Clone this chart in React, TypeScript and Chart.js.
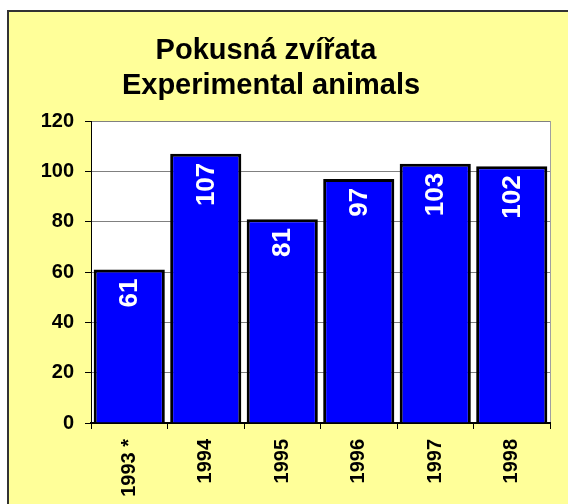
import React, { useEffect, useRef } from "react";
import { Chart, registerables } from "chart.js";

Chart.register(...registerables);

const titleLines = ["Pokusná zvířata", "Experimental animals"];
const categories = ["1993 *", "1994", "1995", "1996", "1997", "1998"];
const values = [61, 107, 81, 97, 103, 102];
const yMin = 0;
const yMax = 120;
const yStep = 20;

const FONT = "'Liberation Sans', Arial, sans-serif";

const framePlugin = {
  id: "frame",
  beforeDraw(chart: any) {
    const { ctx, width, height, chartArea } = chart;
    ctx.save();
    ctx.fillStyle = "#ffffff";
    ctx.fillRect(0, 0, width, height);
    ctx.fillStyle = "#FFFF99";
    ctx.fillRect(8, 11, width, height);
    ctx.strokeStyle = "#333333";
    ctx.lineWidth = 2;
    ctx.beginPath();
    ctx.moveTo(8, height + 5);
    ctx.lineTo(8, 11);
    ctx.lineTo(width + 5, 11);
    ctx.stroke();
    // plot area
    ctx.fillStyle = "#ffffff";
    ctx.fillRect(chartArea.left, chartArea.top, chartArea.right - chartArea.left, chartArea.bottom - chartArea.top);
    ctx.strokeStyle = "#a0a0a0";
    ctx.lineWidth = 1;
    ctx.beginPath();
    ctx.moveTo(chartArea.right + 0.5, chartArea.top);
    ctx.lineTo(chartArea.right + 0.5, chartArea.bottom);
    ctx.stroke();
    // title
    ctx.fillStyle = "#000000";
    ctx.font = `bold 29px ${FONT}`;
    ctx.textAlign = "center";
    ctx.textBaseline = "alphabetic";
    ctx.fillText(titleLines[0], 266, 59);
    ctx.fillText(titleLines[1], 271, 94);
    ctx.restore();
  },
};

const labelPlugin = {
  id: "barLabels",
  afterDatasetsDraw(chart: any) {
    const { ctx } = chart;
    const meta = chart.getDatasetMeta(0);
    ctx.save();
    ctx.fillStyle = "#ffffff";
    ctx.font = `bold 26px ${FONT}`;
    ctx.textAlign = "right";
    ctx.textBaseline = "middle";
    meta.data.forEach((bar: any, i: number) => {
      ctx.save();
      ctx.translate(bar.x, bar.y + 9);
      ctx.rotate(-Math.PI / 2);
      ctx.fillText(String(values[i]), 0, 1);
      ctx.restore();
    });
    ctx.restore();
  },
};

export default function App() {
  const ref = useRef<HTMLCanvasElement>(null);
  useEffect(() => {
    if (!ref.current) return;
    const chart = new Chart(ref.current, {
      type: "bar",
      data: {
        labels: categories,
        datasets: [
          {
            data: values,
            backgroundColor: "#0000FF",
            borderColor: "#000000",
            borderWidth: 3,
            barPercentage: 0.93,
            categoryPercentage: 1,
          },
        ],
      },
      options: {
        animation: false,
        responsive: false,
        maintainAspectRatio: false,
        layout: { padding: { left: 0, right: 18, top: 121, bottom: 0 } },
        plugins: {
          legend: { display: false },
          title: { display: false },
          tooltip: { enabled: false },
        },
        scales: {
          x: {
            afterFit: (s: any) => {
              s.height = 81;
            },
            grid: {
              offset: true,
              drawOnChartArea: false,
              drawTicks: true,
              tickLength: 6,
              color: "#000000",
            },
            border: { color: "#000000", width: 2 },
            ticks: {
              color: "#000000",
              font: { family: FONT, size: 20, weight: "bold" },
              minRotation: 90,
              maxRotation: 90,
              padding: 10,
              autoSkip: false,
            },
          },
          y: {
            min: yMin,
            max: yMax,
            afterFit: (s: any) => {
              s.width = 91;
            },
            grid: {
              color: "#808080",
              tickColor: "#000000",
              tickLength: 6,
              lineWidth: 1,
            },
            border: { color: "#000000", width: 1 },
            ticks: {
              stepSize: yStep,
              color: "#000000",
              padding: 11,
              font: { family: FONT, size: 20, weight: "bold" },
            },
          },
        },
      },
      plugins: [framePlugin, labelPlugin],
    });
    return () => chart.destroy();
  }, []);
  return (
    <div style={{ position: "fixed", left: 0, top: 0, width: 568, height: 504 }}>
      <canvas ref={ref} width={568} height={504} style={{ width: 568, height: 504, display: "block" }} />
    </div>
  );
}
